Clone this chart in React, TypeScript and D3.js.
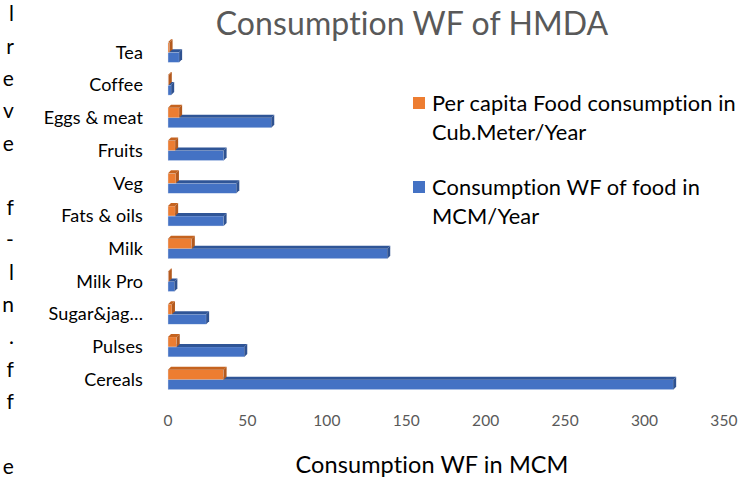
import React from 'react'
import * as d3 from 'd3'

// categories top to bottom, as drawn
const categories = ['Tea', 'Coffee', 'Eggs & meat', 'Fruits', 'Veg', 'Fats & oils', 'Milk', 'Milk Pro', 'Sugar&jag…', 'Pulses', 'Cereals']
const perCapita = [1, 0.5, 7, 4.5, 5, 4.5, 15, 0.5, 2.5, 5.5, 35]
const consumptionWF = [7, 2, 65, 35, 43, 35, 138, 4, 24, 48, 318]
const xTicks = [0, 50, 100, 150, 200, 250, 300, 350]
const seriesNames = [
  ['Per capita Food consumption in', 'Cub.Meter/Year'],
  ['Consumption WF of food in', 'MCM/Year'],
]
// cut-off letters of the surrounding document on the left edge
const sideLetters = ['l', 'r', 'e', 'v', 'e', '', 'f', '-', 'l', 'n', '.', 'f', 'f', '', 'e']

const ORANGE = '#ED7D31'
const BLUE = '#4472C4'
const FONT = 'Lato, "Open Sans", sans-serif'

const Bar3D = ({ x0, x1, y, h, color, dark, top }) => {
  const d = 3
  const w = Math.max(x1 - x0, 0.8)
  return (
    <g>
      <rect x={x0} y={y} width={w} height={h} fill={color} stroke="#dfe7f5" strokeWidth={0.4} />
      <path d={`M${x0},${y} L${x0 + d},${y - d} L${x0 + w + d},${y - d} L${x0 + w},${y} Z`} fill={top} />
      <path d={`M${x0 + w},${y} L${x0 + w + d},${y - d} L${x0 + w + d},${y + h - d} L${x0 + w},${y + h} Z`} fill={dark} />
    </g>
  )
}

const App = () => {
  const xScale = d3.scaleLinear().domain([0, 350]).range([168, 724])
  const yScale = d3.scaleBand().domain(categories).range([36, 396]).padding(0)
  const barH = 10

  return (
    <div style={{ position: 'absolute', left: 0, top: 0 }}>
      <svg width={750} height={477} style={{ display: 'block', background: '#fff' }} fontFamily={FONT} letterSpacing={0.1}>
        <style>{`text { font-variant-ligatures: none; font-feature-settings: "liga" 0, "clig" 0, "dlig" 0; }`}</style>
        {sideLetters.map((t, i) => (
          <text key={'s' + i} x={14} y={14 + i * 32.3} dy="0.35em" textAnchor="end" fontSize={21} fill="#000">
            {t}
          </text>
        ))}

        <text x={412} y={24} dy="0.35em" textAnchor="middle" fontSize={32} fill="#595959">
          Consumption WF of HMDA
        </text>

        {categories.map((c, i) => {
          const cy = yScale(c) + yScale.bandwidth() / 2 - 1
          return (
            <g key={c}>
              <text x={143} y={cy + 1} dy="0.35em" textAnchor="end" fontSize={18} fill="#000">
                {c}
              </text>
              <Bar3D x0={xScale(0)} x1={xScale(consumptionWF[i])} y={cy + 1} h={barH} color={BLUE} dark="#2F5290" top="#2F5597" />
              <Bar3D x0={xScale(0)} x1={xScale(perCapita[i])} y={cy - barH + 1} h={barH} color={ORANGE} dark="#B35A1E" top="#C5631F" />
            </g>
          )
        })}

        {xTicks.map((t) => (
          <text key={t} x={xScale(t)} y={421} dy="0.35em" textAnchor="middle" fontSize={15.5} fill="#595959">
            {t}
          </text>
        ))}

        <text x={432} y={465} dy="0.35em" textAnchor="middle" fontSize={23.5} fill="#000">
          Consumption WF in MCM
        </text>

        {seriesNames.map((lines, i) => {
          const y0 = 103 + i * 84
          return (
            <g key={i}>
              <rect x={413} y={y0 - 6} width={12} height={12} fill={i === 0 ? ORANGE : BLUE} />
              {lines.map((l, j) => (
                <text key={j} x={432} y={y0 + j * 29} dy="0.35em" fontSize={21.8} fill="#000">
                  {l}
                </text>
              ))}
            </g>
          )
        })}
      </svg>
    </div>
  )
}

export default App
